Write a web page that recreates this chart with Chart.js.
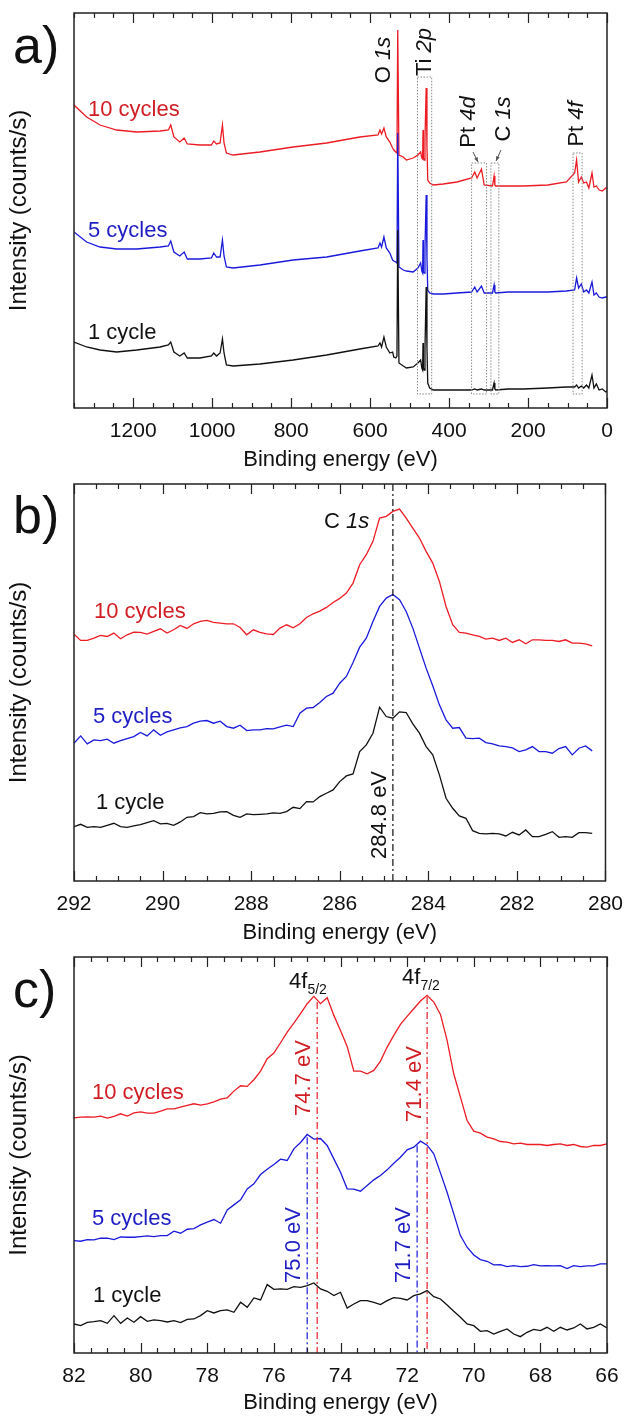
<!DOCTYPE html>
<html>
<head>
<meta charset="utf-8">
<script src="https://cdn.jsdelivr.net/npm/chart.js@4.4.1/dist/chart.umd.min.js"></script>
<style>
  html, body { margin: 0; padding: 0; background: #fff; }
  #wrap { position: relative; width: 626px; height: 1418px; }
  .panel { position: absolute; left: 0; width: 626px; }
</style>
</head>
<body>
<div id="wrap">
  <div class="panel" style="top:0;height:472px"><canvas id="chartA"></canvas></div>
  <div class="panel" style="top:472px;height:472px"><canvas id="chartB"></canvas></div>
  <div class="panel" style="top:944px;height:474px"><canvas id="chartC"></canvas></div>
</div>
<script>
// ---- survey spectrum (panel a) ----
const surveyEnergy = [1350, 1318, 1284, 1242, 1191, 1132, 1111, 1105, 1097, 1082, 1071, 1063, 1031, 1002, 996, 989, 980, 974, 970, 964,
  947, 879, 795, 710, 626, 580, 575, 571, 565, 559, 550, 543, 540, 535, 532, 530, 527, 516, 508, 491,
  479, 472, 469, 467, 466, 465, 463, 461, 458, 456, 454, 449, 440, 415, 380, 343, 335, 329, 318, 311,
  290, 286, 284, 282, 250, 212, 150, 103, 82, 77, 72, 65, 59, 52, 46, 38, 33, 27, 20, 12, 3, 0];
const survey1 = [66, 61, 58, 56, 58, 61, 63, 66, 56, 52, 55, 50, 50, 52, 55, 52, 55, 69, 55, 43,
  42, 44, 48, 53, 59, 62, 65, 61, 71, 61, 55, 56, 51, 50, 52, 178, 45, 42, 40, 41,
  45, 48, 40, 38, 65, 40, 38, 60, 121, 60, 25, 20, 18, 18, 18, 18, 19, 18, 19, 18,
  18, 25, 19, 18, 19, 19, 20, 21, 21, 23, 20, 22, 20, 23, 20, 33, 20, 24, 18, 19, 16, 17];
const survey5 = [176, 166, 161, 159, 159, 161, 162, 167, 156, 152, 156, 149, 149, 150, 155, 151, 151, 168, 152, 141,
  140, 143, 148, 151, 157, 160, 165, 161, 171, 160, 155, 148, 147, 146, 145, 275, 141, 138, 137, 136,
  140, 145, 137, 135, 168, 136, 135, 160, 213, 150, 118, 115, 114, 114, 115, 116, 121, 116, 122, 115,
  115, 123, 116, 115, 116, 116, 116, 117, 118, 130, 120, 124, 116, 118, 115, 126, 113, 115, 111, 110, 111, 111];
const survey10 = [303, 291, 283, 278, 276, 277, 278, 283, 271, 266, 270, 264, 263, 263, 267, 264, 265, 283, 265, 255,
  253, 256, 261, 265, 271, 273, 278, 274, 280, 271, 266, 260, 258, 256, 255, 378, 253, 251, 248, 250,
  253, 256, 250, 249, 278, 250, 248, 270, 320, 262, 228, 225, 223, 224, 226, 230, 236, 230, 239, 223,
  222, 232, 223, 222, 222, 222, 223, 226, 235, 248, 226, 231, 225, 226, 220, 235, 221, 222, 218, 217, 220, 220];
const surveyTicks = [1200, 1000, 800, 600, 400, 200, 0];
// dotted boxes: [from eV, to eV, top intensity]
const surveyBoxes = [[480, 444, 331], [343, 305, 245], [294, 274, 245], [86, 63, 255]];

// ---- C 1s (panel b) ----
const c1sEnergy = [292.00, 291.85, 291.70, 291.55, 291.40, 291.25, 291.10, 290.95, 290.80, 290.65,
  290.50, 290.35, 290.20, 290.05, 289.90, 289.75, 289.60, 289.45, 289.30, 289.15,
  289.00, 288.85, 288.70, 288.55, 288.40, 288.25, 288.10, 287.95, 287.80, 287.65,
  287.50, 287.35, 287.20, 287.05, 286.90, 286.75, 286.60, 286.45, 286.30, 286.15,
  286.00, 285.85, 285.70, 285.55, 285.40, 285.25, 285.10, 284.95, 284.80, 284.65,
  284.50, 284.35, 284.20, 284.05, 283.90, 283.75, 283.60, 283.45, 283.30, 283.15,
  283.00, 282.85, 282.70, 282.55, 282.40, 282.25, 282.10, 281.95, 281.80, 281.65,
  281.50, 281.35, 281.20, 281.05, 280.90, 280.75, 280.60, 280.45, 280.30];
const c1s10 = [740, 721, 721, 728, 736, 733, 743, 726, 738, 746, 745, 740, 748, 756, 743, 753, 766, 757, 771, 778,
  781, 775, 773, 771, 771, 760, 738, 753, 745, 741, 739, 758, 768, 759, 771, 790, 801, 809, 820, 835,
  847, 863, 893, 948, 978, 1018, 1088, 1093, 1108, 1115, 1088, 1058, 1028, 988, 953, 898, 823, 768, 745, 743,
  738, 733, 725, 728, 721, 728, 715, 723, 711, 723, 723, 721, 721, 718, 723, 713, 713, 711, 705];
const c1s5 = [413, 435, 411, 423, 421, 425, 413, 421, 427, 433, 445, 435, 453, 437, 447, 453, 459, 463, 473, 479,
  481, 473, 479, 463, 458, 467, 451, 453, 453, 457, 456, 462, 467, 463, 503, 518, 520, 535, 553, 563,
  593, 613, 655, 701, 728, 778, 823, 848, 859, 843, 808, 758, 698, 638, 585, 528, 483, 458, 460, 428,
  427, 428, 415, 411, 405, 403, 399, 388, 393, 403, 388, 388, 383, 397, 403, 378, 398, 405, 390];
const c1s1 = [163, 170, 161, 163, 161, 167, 173, 163, 161, 165, 169, 175, 181, 171, 173, 167, 177, 191, 193, 205,
  201, 203, 207, 208, 197, 191, 201, 199, 200, 201, 204, 203, 208, 221, 217, 238, 237, 253, 263, 273,
  298, 315, 321, 388, 408, 443, 521, 493, 488, 507, 505, 471, 443, 403, 378, 318, 248, 218, 195, 188,
  151, 143, 141, 143, 141, 135, 146, 138, 153, 133, 133, 140, 148, 131, 133, 131, 145, 145, 143];
const c1sTicks = [292, 290, 288, 286, 284, 282, 280];
const c1sRef = 284.8;

// ---- Pt 4f (panel c) ----
const pt4fEnergy = [82.0, 81.8, 81.6, 81.4, 81.2, 81.0, 80.8, 80.6, 80.4, 80.2, 80.0, 79.8, 79.6, 79.4, 79.2, 79.0,
  78.8, 78.6, 78.4, 78.2, 78.0, 77.8, 77.6, 77.4, 77.2, 77.0, 76.8, 76.6, 76.4, 76.2, 76.0, 75.8,
  75.6, 75.4, 75.2, 75.0, 74.8, 74.6, 74.4, 74.2, 74.0, 73.8, 73.6, 73.4, 73.2, 73.0, 72.8, 72.6,
  72.4, 72.2, 72.0, 71.8, 71.6, 71.4, 71.2, 71.0, 70.8, 70.6, 70.4, 70.2, 70.0, 69.8, 69.6, 69.4,
  69.2, 69.0, 68.8, 68.6, 68.4, 68.2, 68.0, 67.8, 67.6, 67.4, 67.2, 67.0, 66.8, 66.6, 66.4, 66.2, 66.0];
const pt4f10 = [705, 707, 708, 707, 710, 704, 709, 717, 710, 720, 723, 719, 719, 725, 732, 732, 737, 742, 747, 743,
  747, 753, 761, 765, 785, 801, 799, 819, 845, 882, 899, 930, 962, 989, 1017, 1047, 1069, 1047, 1065, 1012,
  967, 919, 845, 845, 837, 847, 875, 917, 952, 985, 1009, 1032, 1055, 1072, 1052, 1015, 937, 837, 767, 697,
  665, 659, 647, 642, 634, 632, 627, 629, 625, 625, 625, 622, 625, 627, 622, 625, 619, 617, 622, 622, 627];
const pt4f5 = [337, 335, 340, 339, 344, 344, 340, 348, 347, 347, 349, 351, 349, 352, 352, 365, 359, 371, 373, 384,
  392, 400, 389, 429, 444, 459, 492, 507, 535, 551, 565, 581, 577, 612, 631, 655, 641, 643, 622, 582,
  542, 492, 491, 485, 502, 519, 532, 549, 569, 587, 609, 617, 635, 623, 597, 540, 482, 417, 352, 317,
  294, 280, 275, 264, 265, 259, 262, 259, 260, 265, 261, 262, 261, 262, 253, 262, 259, 261, 261, 267, 267];
const pt4f1 = [87, 82, 92, 94, 97, 89, 112, 89, 105, 92, 109, 95, 99, 97, 93, 97, 91, 101, 102, 112,
  127, 120, 127, 129, 122, 152, 137, 165, 159, 205, 191, 192, 191, 199, 197, 202, 210, 192, 185, 172,
  182, 135, 147, 157, 157, 152, 145, 157, 166, 164, 159, 172, 177, 187, 169, 162, 144, 125, 107, 87,
  82, 65, 67, 57, 65, 72, 57, 49, 62, 71, 67, 77, 65, 77, 69, 75, 87, 72, 77, 87, 75];
const pt4fTicks = [82, 80, 78, 76, 74, 72, 70, 68, 66];
const peaks10 = [74.7, 71.4];
const peakTops10 = [1052, 1067];
const peaks5 = [75.0, 71.7];
const peakTops5 = [647, 622];

const FONT = '"Liberation Sans", Arial, Helvetica, sans-serif';
const RED = '#ec1c24';
const BLUE = '#1a1adc';
const BLACK = '#111111';
const RED_T = '#d01e24';
const BLUE_T = '#1e1ec4';

function series(energy, values, color) {
  return {
    data: energy.map((e, i) => ({ x: e, y: values[i] })),
    borderColor: color,
    borderWidth: 1.3,
    pointRadius: 0,
    tension: 0,
    fill: false
  };
}

// rich text: parts may be italic or subscript, optionally rotated
function drawRich(ctx, it, offY) {
  const size = it.size || 22;
  let total = 0;
  const fonts = it.parts.map(p => {
    const f = (p.italic ? 'italic ' : '') + (p.sub ? Math.round(size * 0.64) : size) + 'px ' + FONT;
    ctx.font = f;
    const w = ctx.measureText(p.t).width;
    total += w;
    return { f, w };
  });
  ctx.save();
  ctx.translate(it.x, it.y - offY);
  if (it.rot) ctx.rotate(-Math.PI / 2);
  ctx.fillStyle = it.color || BLACK;
  ctx.textBaseline = it.base || 'middle';
  ctx.textAlign = 'left';
  let x = it.align === 'left' ? 0 : -total / 2;
  it.parts.forEach((p, i) => {
    ctx.font = fonts[i].f;
    ctx.fillText(p.t, x, p.sub ? size * 0.38 : 0);
    x += fonts[i].w;
  });
  ctx.restore();
}

function textLayer(items, offY) {
  return {
    id: 'textLayer',
    afterDraw(chart) { items.forEach(it => drawRich(chart.ctx, it, offY)); }
  };
}

function frameTicks(minorStep) {
  return {
    id: 'frameTicks',
    afterDraw(chart) {
      const { ctx, chartArea: a, scales: { x } } = chart;
      ctx.save();
      ctx.strokeStyle = '#222';
      ctx.lineWidth = 1.5;
      ctx.strokeRect(a.left, a.top, a.right - a.left, a.bottom - a.top);
      ctx.lineWidth = 1.2;
      const majors = x.ticks.map(t => t.value);
      const n = Math.round((x.max - x.min) / minorStep);
      for (let i = 0; i <= n; i++) {
        const v = x.min + i * minorStep;
        const px = Math.round(x.getPixelForValue(v)) + 0.5;
        const len = majors.some(m => Math.abs(m - v) < minorStep / 10) ? 10 : 5;
        ctx.beginPath();
        ctx.moveTo(px, a.bottom);
        ctx.lineTo(px, a.bottom - len);
        ctx.moveTo(px, a.top);
        ctx.lineTo(px, a.top + len);
        ctx.stroke();
      }
      ctx.restore();
    }
  };
}

function buildChart(id, o) {
  return new Chart(document.getElementById(id), {
    type: 'line',
    data: { datasets: o.datasets },
    options: {
      animation: false,
      responsive: true,
      maintainAspectRatio: false,
      layout: { padding: { top: o.padTop, right: 19, bottom: 0, left: 0 } },
      plugins: { legend: { display: false }, tooltip: { enabled: false } },
      scales: {
        x: {
          type: 'linear',
          reverse: true,
          min: o.xMin,
          max: o.xMax,
          afterBuildTicks: s => { s.ticks = o.ticks.map(v => ({ value: v })); },
          afterFit: s => { s.height = o.axisH; },
          grid: { display: false },
          border: { display: false },
          ticks: {
            color: BLACK, padding: 3, maxRotation: 0, autoSkip: false,
            font: { family: FONT, size: 21 },
            callback: v => String(v)
          },
          title: {
            display: true, text: 'Binding energy (eV)', color: BLACK,
            font: { family: FONT, size: 22, lineHeight: 1 },
            padding: { top: 0, bottom: o.titlePad }
          }
        },
        y: {
          min: 0,
          max: o.yMax,
          afterFit: s => { s.width = 74; },
          grid: { display: false },
          border: { display: false },
          ticks: { display: false },
          title: {
            display: true, text: 'Intensity (counts/s)', color: BLACK,
            font: { family: FONT, size: 24, lineHeight: 1 },
            padding: { top: 7, bottom: 0 }
          }
        }
      }
    },
    plugins: [frameTicks(o.minor)].concat(o.extra)
  });
}

// ---------- panel a ----------
const boxesA = {
  id: 'boxesA',
  afterDatasetsDraw(chart) {
    const { ctx, scales: { x, y } } = chart;
    ctx.save();
    ctx.strokeStyle = '#8a8a8a';
    ctx.lineWidth = 1;
    ctx.setLineDash([1.5, 1.5]);
    surveyBoxes.forEach(([e1, e2, top]) => {
      const x1 = x.getPixelForValue(e1), x2 = x.getPixelForValue(e2);
      const y1 = y.getPixelForValue(top), y2 = y.getPixelForValue(14);
      ctx.strokeRect(x1, y1, x2 - x1, y2 - y1);
    });
    ctx.setLineDash([]);
    ctx.strokeStyle = '#555';
    ctx.fillStyle = '#555';
    [[473, 152, 478, 162], [501, 150, 496, 161]].forEach(([ax, ay, bx, by]) => {
      ctx.beginPath(); ctx.moveTo(ax, ay); ctx.lineTo(bx, by); ctx.stroke();
      const ang = Math.atan2(by - ay, bx - ax);
      ctx.beginPath();
      ctx.moveTo(bx, by);
      ctx.lineTo(bx - 5 * Math.cos(ang - 0.4), by - 5 * Math.sin(ang - 0.4));
      ctx.lineTo(bx - 5 * Math.cos(ang + 0.4), by - 5 * Math.sin(ang + 0.4));
      ctx.closePath(); ctx.fill();
    });
    ctx.restore();
  }
};

buildChart('chartA', {
  datasets: [series(surveyEnergy, survey1, BLACK), series(surveyEnergy, survey5, BLUE), series(surveyEnergy, survey10, RED)],
  xMin: 0, xMax: 1350, yMax: 395, ticks: surveyTicks, minor: 50,
  padTop: 13, axisH: 64, titlePad: 1,
  extra: [boxesA, textLayer([
    { parts: [{ t: 'a)' }], size: 52, x: 13, y: 63, align: 'left', base: 'alphabetic' },
    { parts: [{ t: '10 cycles' }], color: RED_T, x: 88, y: 110, align: 'left' },
    { parts: [{ t: '5 cycles' }], color: BLUE_T, x: 88, y: 231, align: 'left' },
    { parts: [{ t: '1 cycle' }], x: 88, y: 333, align: 'left' },
    { parts: [{ t: 'O ' }, { t: '1s', italic: true }], rot: true, x: 384, y: 60 },
    { parts: [{ t: 'Ti ' }, { t: '2p', italic: true }], rot: true, x: 425, y: 52 },
    { parts: [{ t: 'Pt ' }, { t: '4d', italic: true }], rot: true, x: 469, y: 122 },
    { parts: [{ t: 'C ' }, { t: '1s', italic: true }], rot: true, x: 504, y: 119 },
    { parts: [{ t: 'Pt ' }, { t: '4f', italic: true }], rot: true, x: 577, y: 124 }
  ], 0)]
});

// ---------- panel b ----------
const refLineB = {
  id: 'refLineB',
  afterDatasetsDraw(chart) {
    const { ctx, chartArea: a, scales: { x } } = chart;
    const px = x.getPixelForValue(c1sRef);
    ctx.save();
    ctx.strokeStyle = BLACK;
    ctx.lineWidth = 1.2;
    ctx.setLineDash([7, 3, 2, 3]);
    ctx.beginPath(); ctx.moveTo(px, a.top); ctx.lineTo(px, a.bottom); ctx.stroke();
    ctx.restore();
  }
};

buildChart('chartB', {
  datasets: [series(c1sEnergy, c1s1, BLACK), series(c1sEnergy, c1s5, BLUE), series(c1sEnergy, c1s10, RED)],
  xMin: 280, xMax: 292, yMax: 1190, ticks: c1sTicks, minor: 0.5,
  padTop: 12, axisH: 63, titlePad: 0,
  extra: [refLineB, textLayer([
    { parts: [{ t: 'b)' }], size: 52, x: 13, y: 533, align: 'left', base: 'alphabetic' },
    { parts: [{ t: '10 cycles' }], color: RED_T, x: 94, y: 612, align: 'left' },
    { parts: [{ t: '5 cycles' }], color: BLUE_T, x: 93, y: 717, align: 'left' },
    { parts: [{ t: '1 cycle' }], x: 96, y: 803, align: 'left' },
    { parts: [{ t: 'C ' }, { t: '1s', italic: true }], x: 324, y: 522, align: 'left' },
    { parts: [{ t: '284.8 eV' }], rot: true, x: 380, y: 815 }
  ], 472)]
});

// ---------- panel c ----------
const peakLinesC = {
  id: 'peakLinesC',
  afterDatasetsDraw(chart) {
    const { ctx, chartArea: a, scales: { x, y } } = chart;
    ctx.save();
    ctx.lineWidth = 1.2;
    ctx.setLineDash([7, 3, 2, 3]);
    const draw = (energies, tops, color) => {
      ctx.strokeStyle = color;
      energies.forEach((e, i) => {
        const px = x.getPixelForValue(e);
        ctx.beginPath(); ctx.moveTo(px, y.getPixelForValue(tops[i])); ctx.lineTo(px, a.bottom); ctx.stroke();
      });
    };
    draw(peaks5, peakTops5, BLUE);
    draw(peaks10, peakTops10, RED);
    ctx.restore();
  }
};

buildChart('chartC', {
  datasets: [series(pt4fEnergy, pt4f1, BLACK), series(pt4fEnergy, pt4f5, BLUE), series(pt4fEnergy, pt4f10, RED)],
  xMin: 66, xMax: 82, yMax: 1187, ticks: pt4fTicks, minor: 0.5,
  padTop: 13, axisH: 65, titlePad: 4,
  extra: [peakLinesC, textLayer([
    { parts: [{ t: 'c)' }], size: 52, x: 13, y: 1007, align: 'left', base: 'alphabetic' },
    { parts: [{ t: '10 cycles' }], color: RED_T, x: 92, y: 1093, align: 'left' },
    { parts: [{ t: '5 cycles' }], color: BLUE_T, x: 92, y: 1219, align: 'left' },
    { parts: [{ t: '1 cycle' }], x: 93, y: 1296, align: 'left' },
    { parts: [{ t: '4f' }, { t: '5/2', sub: true }], x: 308, y: 982 },
    { parts: [{ t: '4f' }, { t: '7/2', sub: true }], x: 421, y: 978 },
    { parts: [{ t: '74.7 eV' }], color: RED_T, rot: true, x: 304, y: 1078 },
    { parts: [{ t: '71.4 eV' }], color: RED_T, rot: true, x: 415, y: 1084 },
    { parts: [{ t: '75.0 eV' }], color: BLUE_T, rot: true, x: 294, y: 1245 },
    { parts: [{ t: '71.7 eV' }], color: BLUE_T, rot: true, x: 404, y: 1245 }
  ], 944)]
});
</script>
</body>
</html>
